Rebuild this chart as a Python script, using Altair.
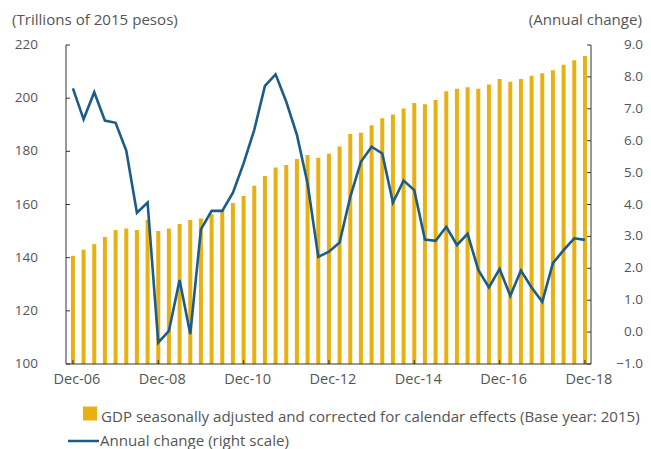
import altair as alt
import pandas as pd

# ---- data ----
gdp = [140.7, 143.0, 145.1, 147.8, 150.4, 151.0, 150.4, 154.2, 150.0, 151.0, 152.7, 154.2,
       154.7, 156.3, 157.9, 160.6, 163.2, 167.1, 170.7, 173.9, 174.9, 177.1, 178.6, 177.6,
       179.1, 181.8, 186.5, 187.0, 189.8, 192.4, 193.9, 196.1, 198.2, 197.7, 199.3, 202.6,
       203.5, 204.1, 203.5, 205.1, 207.2, 206.2, 207.2, 208.4, 209.4, 210.5, 212.6, 214.3,
       215.9]
chg = [7.64, 6.67, 7.52, 6.63, 6.56, 5.69, 3.74, 4.06, -0.33, 0.04, 1.63, -0.06,
       3.22, 3.80, 3.80, 4.37, 5.29, 6.34, 7.72, 8.08, 7.22, 6.18, 4.66, 2.36,
       2.52, 2.81, 4.24, 5.34, 5.81, 5.60, 4.06, 4.75, 4.45, 2.90, 2.86, 3.30,
       2.73, 3.08, 1.95, 1.40, 1.98, 1.14, 1.93, 1.40, 0.95, 2.16, 2.57, 2.94,
       2.89]
tick_labels = ["Dec-06", "Dec-08", "Dec-10", "Dec-12", "Dec-14", "Dec-16", "Dec-18"]
tick_pos = [0, 8, 16, 24, 32, 40, 48]
left_ticks = [100, 120, 140, 160, 180, 200, 220]
right_ticks = [-1, 0, 1, 2, 3, 4, 5, 6, 7, 8, 9]
legend_labels = ["GDP seasonally adjusted and corrected for calendar effects (Base year: 2015)",
                 "Annual change (right scale)"]
left_title = "(Trillions of 2015 pesos)"
right_title = "(Annual change)"

GOLD = "#E9B011"
BLUE = "#1B5C8A"
AXIS = "#333333"
LABEL = "#555555"
FONT = "Open Sans"

W, H = 525, 319

df = pd.DataFrame({"idx": list(range(len(gdp))), "gdp": gdp, "chg": chg})
xt_df = pd.DataFrame({"idx": tick_pos, "lab": tick_labels})
lt_df = pd.DataFrame({"v": left_ticks})
rt_df = pd.DataFrame({"v": right_ticks})
one_df = pd.DataFrame({"a": [0]})
leg1_df = pd.DataFrame({"t": [legend_labels[0]]})
leg2_df = pd.DataFrame({"t": [legend_labels[1]]})
ltitle_df = pd.DataFrame({"t": [left_title]})
rtitle_df = pd.DataFrame({"t": [right_title]})

xscale = alt.Scale(domain=[-0.18, 48.1], nice=False, zero=False)
lscale = alt.Scale(domain=[100, 220], nice=False, zero=False)
rscale = alt.Scale(domain=[-1, 9], nice=False, zero=False)

X = lambda f: alt.X(f, scale=xscale, axis=None)
YL = lambda f: alt.Y(f, scale=lscale, axis=None)
YR = lambda f: alt.Y(f, scale=rscale, axis=None)

bars = alt.Chart(df).mark_bar(size=4, color=GOLD).encode(
    x=X("idx:Q"), y=YL("gdp:Q"), y2=alt.datum(100))

# axis lines
dom_l = alt.Chart(one_df).mark_rule(color=AXIS, strokeWidth=1).encode(
    x=alt.value(0), y=alt.value(0), y2=alt.value(H))
dom_r = alt.Chart(one_df).mark_rule(color=AXIS, strokeWidth=1).encode(
    x=alt.value(W), y=alt.value(0), y2=alt.value(H))
dom_b = alt.Chart(one_df).mark_rule(color=AXIS, strokeWidth=1).encode(
    x=alt.value(0), x2=alt.value(W), y=alt.value(H))

# inward ticks + labels
lticks = alt.Chart(lt_df).mark_rule(color=AXIS, strokeWidth=1).encode(
    y=YL("v:Q"), x=alt.value(0), x2=alt.value(4))
llabels = alt.Chart(lt_df).mark_text(align="right", baseline="middle", font=FONT,
                                     fontSize=13.5, color=LABEL).encode(
    y=YL("v:Q"), x=alt.value(-28), text=alt.Text("v:Q", format="d"))

xticks = alt.Chart(xt_df).mark_rule(color=AXIS, strokeWidth=1).encode(
    x=X("idx:Q"), y=alt.value(H), y2=alt.value(H - 4))
xlabels = alt.Chart(xt_df).mark_text(align="center", baseline="alphabetic", font=FONT,
                                     fontSize=14.5, color=LABEL, dx=4).encode(
    x=X("idx:Q"), y=alt.value(H + 20), text="lab:N")

txt = dict(baseline="alphabetic", font=FONT, fontSize=15.1, color=LABEL)

ttl_l = alt.Chart(ltitle_df).mark_text(align="left", **txt).encode(
    x=alt.value(-54), y=alt.value(-20), text="t:N")
ttl_r = alt.Chart(rtitle_df).mark_text(align="right", **txt).encode(
    x=alt.value(W + 51), y=alt.value(-20), text="t:N")

leg_sq = alt.Chart(leg1_df).mark_square(color=GOLD, size=196, opacity=1).encode(
    x=alt.value(24), y=alt.value(368.5))
leg_t1 = alt.Chart(leg1_df).mark_text(align="left", **txt).encode(
    x=alt.value(35), y=alt.value(377), text="t:N")
leg_ln = alt.Chart(leg2_df).mark_rule(color=BLUE, strokeWidth=2.5).encode(
    x=alt.value(2), x2=alt.value(33), y=alt.value(396))
leg_t2 = alt.Chart(leg2_df).mark_text(align="left", **txt).encode(
    x=alt.value(34), y=alt.value(401), text="t:N")

left = alt.layer(bars, dom_l, dom_r, dom_b, lticks, llabels, xticks, xlabels,
                 ttl_l, ttl_r, leg_sq, leg_t1, leg_ln, leg_t2)

line = alt.Chart(df).mark_line(color=BLUE, strokeWidth=2.6).encode(
    x=X("idx:Q"), y=YR("chg:Q"))

rticks = alt.Chart(rt_df).mark_rule(color=AXIS, strokeWidth=1).encode(
    y=YR("v:Q"), x=alt.value(W - 4), x2=alt.value(W))
rlabels = alt.Chart(rt_df).mark_text(align="right", baseline="middle", font=FONT,
                                     fontSize=13.5, color=LABEL).encode(
    y=YR("v:Q"), x=alt.value(W + 52), text=alt.Text("v:Q", format=".1f"))

right = alt.layer(line, rticks, rlabels)

chart = alt.layer(left, right).resolve_scale(y="independent").properties(
    width=W, height=H,
    background="white",
    autosize=alt.AutoSizeParams(type="none"),
    padding={"left": 58, "top": 37, "right": 52, "bottom": 90},
).configure_view(stroke=None)

chart.save("out.html", embed_options={"renderer": "svg", "actions": False})
